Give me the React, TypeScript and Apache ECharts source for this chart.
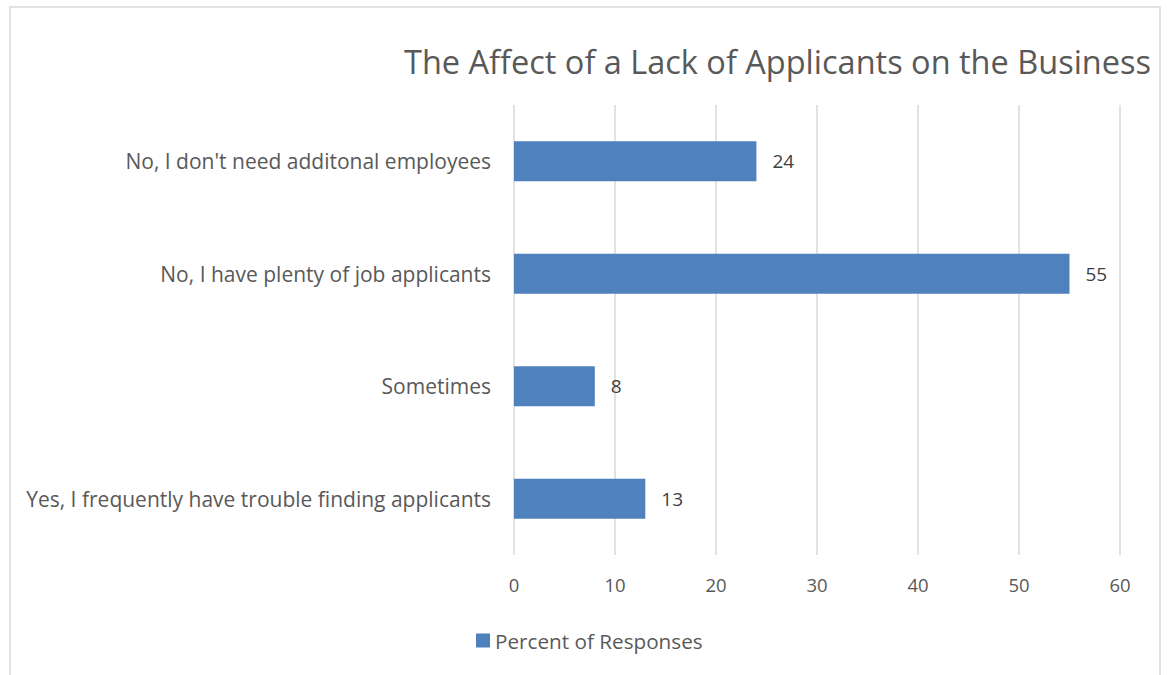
import React, { useEffect, useRef } from "react";
import * as echarts from "echarts";

const categories = [
  "No, I don't need additonal employees",
  "No, I have plenty of job applicants",
  "Sometimes",
  "Yes, I frequently have trouble finding applicants",
];
const values = [24, 55, 8, 13];
const seriesName = "Percent of Responses";
const titleText = "The Affect of a Lack of Applicants on the Business";

export default function App() {
  const ref = useRef<HTMLDivElement>(null);
  useEffect(() => {
    if (!ref.current) return;
    const chart = echarts.init(ref.current, null, { renderer: "svg" });
    const font = "'Open Sans', sans-serif";
    chart.setOption({
      animation: false,
      backgroundColor: "#ffffff",
      textStyle: { fontFamily: font },
      title: {
        text: titleText,
        right: 11,
        top: 40,
        textStyle: { fontFamily: font, fontSize: 32.5, fontWeight: "normal", color: "#595959" },
      },
      graphic: [
        {
          type: "rect",
          shape: { x: 10, y: 7, width: 1150, height: 700 },
          style: { fill: "none", stroke: "#D9D9D9", lineWidth: 1.5 },
          silent: true,
        },
      ],
      legend: {
        data: [seriesName],
        bottom: 19,
        left: 471,
        itemWidth: 14,
        itemHeight: 14,
        itemGap: 6,
        icon: "rect",
        textStyle: { fontFamily: font, fontSize: 20.7, color: "#595959" },
      },
      grid: { left: 514, right: 47, top: 105, bottom: 120, containLabel: false },
      xAxis: {
        type: "value",
        min: 0,
        max: 60,
        interval: 10,
        axisLine: { show: false },
        axisTick: { show: false },
        axisLabel: { fontFamily: font, fontSize: 18.5, color: "#595959", margin: 20 },
        splitLine: { show: true, lineStyle: { color: "#D9D9D9", width: 1.5 } },
      },
      yAxis: {
        type: "category",
        data: categories,
        inverse: true,
        axisLine: { show: false },
        axisTick: { show: false },
        axisLabel: { fontFamily: font, fontSize: 21, color: "#595959", margin: 23 },
        splitLine: { show: false },
      },
      series: [
        {
          name: seriesName,
          type: "bar",
          data: values,
          barWidth: 40,
          itemStyle: { color: "#4F81BD" },
          label: {
            show: true,
            position: "right",
            distance: 16,
            fontFamily: font,
            fontSize: 19,
            color: "#404040",
          },
        },
      ],
    });
    return () => chart.dispose();
  }, []);
  return (
    <div
      ref={ref}
      style={{ position: "fixed", left: 0, top: 0, width: 1167, height: 675 }}
    />
  );
}
